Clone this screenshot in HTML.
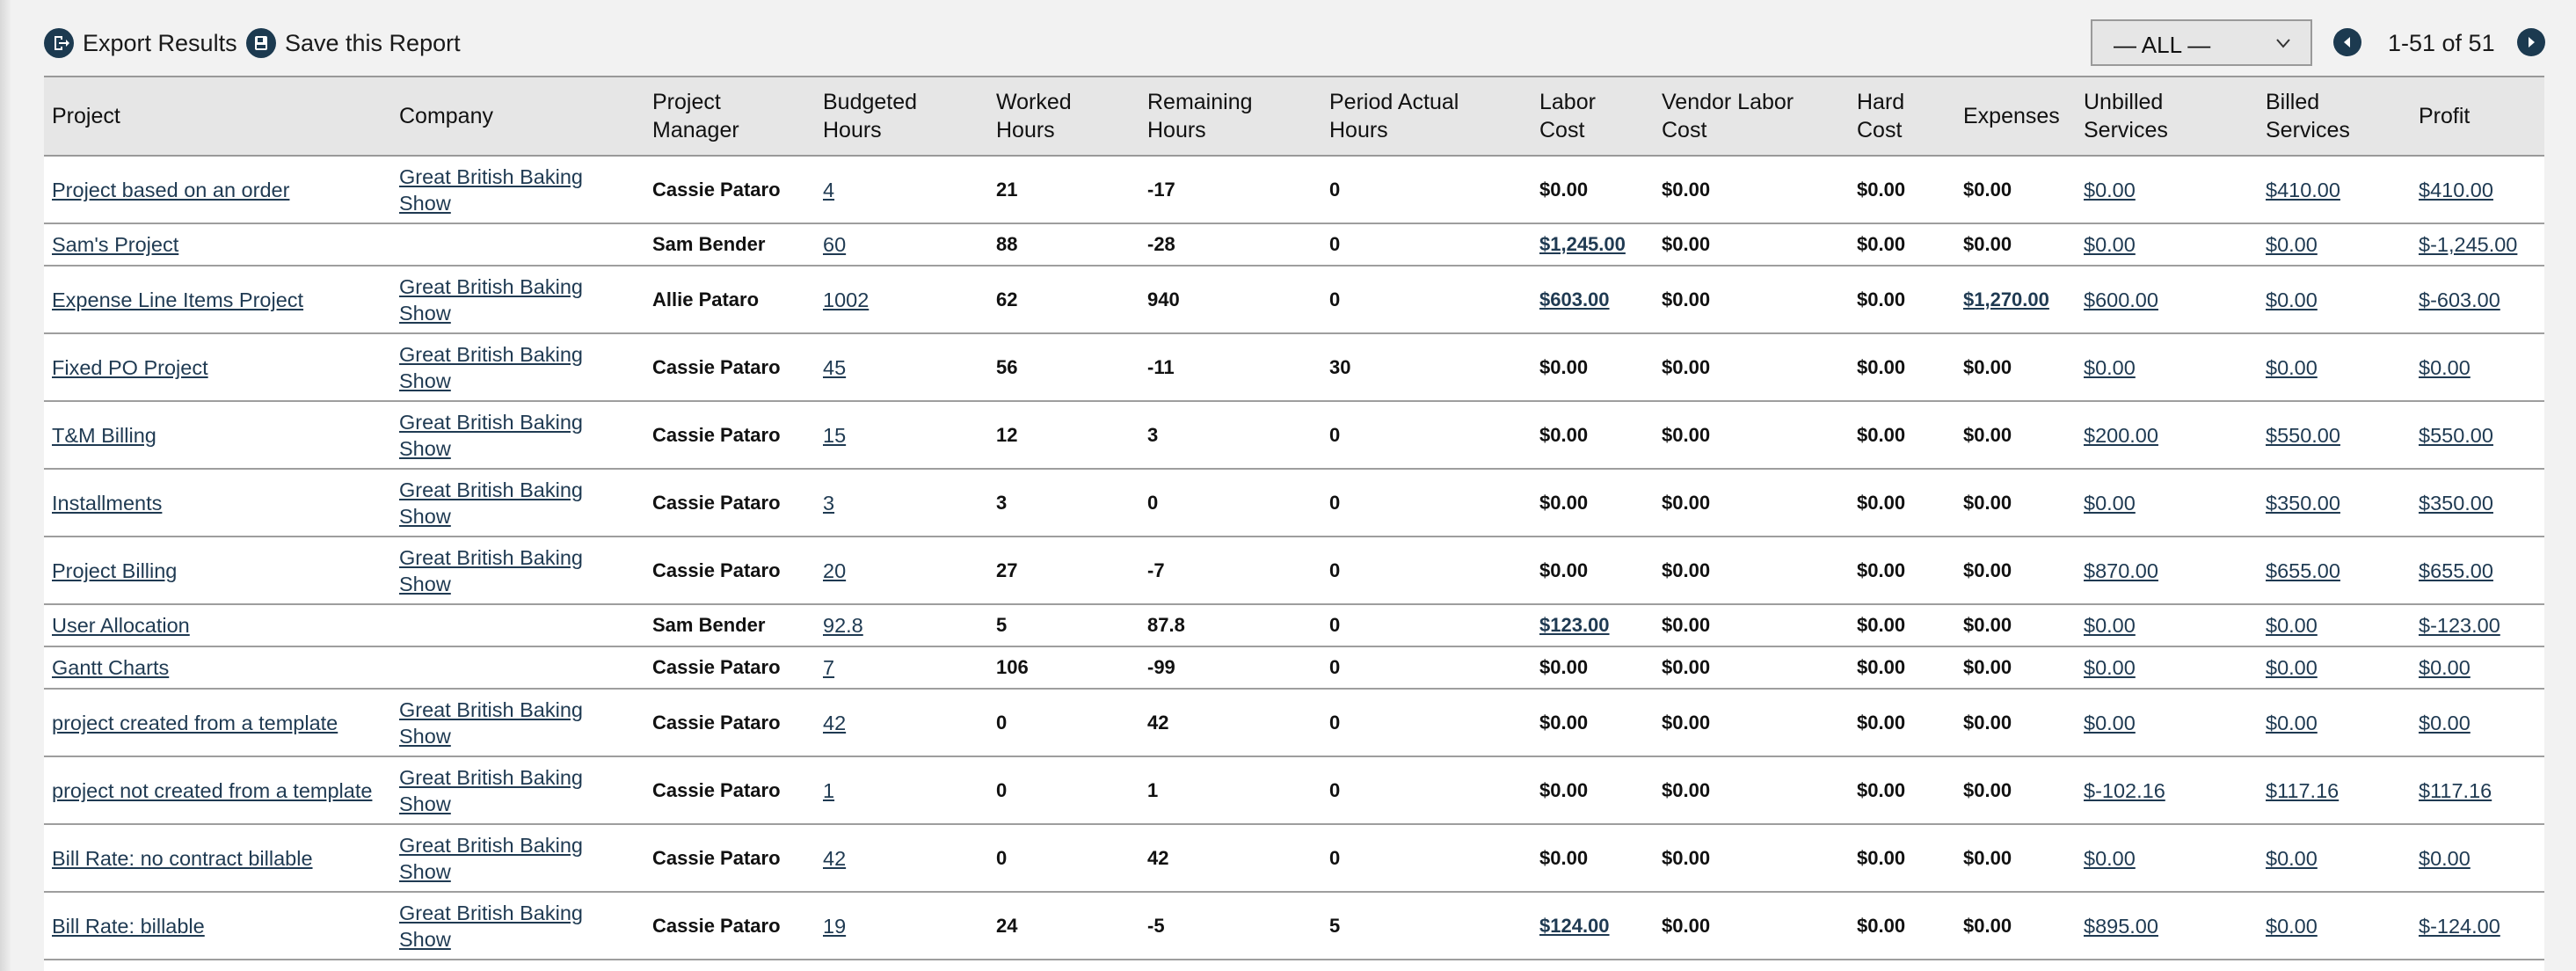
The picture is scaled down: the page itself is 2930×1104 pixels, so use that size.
<!DOCTYPE html>
<html><head><meta charset="utf-8"><style>
*{box-sizing:border-box;margin:0;padding:0}
html,body{width:2930px;height:1104px;overflow:hidden;background:#f2f2f2;font-family:"Liberation Sans",sans-serif;color:#111}
.edge{position:absolute;left:0;top:0;width:12px;height:1104px;background:linear-gradient(90deg,#d8d8d8,#efefef)}
.top{position:absolute;top:22px;height:54px;display:flex;align-items:center;font-size:27px;color:#1a1a1a}
.ic{width:34px;height:34px;border-radius:50%;background:#1c3a50;display:inline-block;position:relative;margin-right:10px}
.sel{position:absolute;left:2378px;top:22px;width:252px;height:53px;border:2px solid #9a9a9a;background:#e6e6e6;font-size:26px;padding:12px 0 0 24px}
.sel svg{position:absolute;right:22px;top:18px}
.nav{position:absolute;top:32px;width:32px;height:32px;border-radius:50%;background:#1c3a50}
table{position:absolute;left:50px;top:86px;width:2844px;border-collapse:collapse;table-layout:fixed;background:#fff}
th{background:#e6e6e6;font-weight:normal;text-align:left;font-size:25px;line-height:32px;padding:0 9px;height:90px;border-top:2px solid #999;border-bottom:2px solid #999}
td{font-size:22px;padding:0 9px;border-bottom:2px solid #9e9e9e;vertical-align:middle;font-weight:bold;line-height:30px;white-space:nowrap}
td.l{font-weight:normal;font-size:23.5px}
a{color:#1f3a52;text-decoration:underline}
tr.d td{height:77px}tr.s td{height:48px}
.bot{position:absolute;left:50px;top:1090px;width:2844px;height:14px;background:#fff}
</style></head><body>
<div class="edge"></div>
<div class="bot"></div>
<div class="top" style="left:50px"><span class="ic"><svg width="34" height="34" viewBox="0 0 34 34"><path d="M12 9h9v4h-2v-2h-5v12h5v-2h2v4h-9z M17 16h8v-3l4 4-4 4v-3h-8z" fill="#fff"/></svg></span>Export Results</div>
<div class="top" style="left:280px"><span class="ic"><svg width="34" height="34" viewBox="0 0 34 34"><rect x="10" y="9" width="14" height="16" rx="2" fill="#fff"/><rect x="13" y="11" width="6" height="5" fill="#1c3a50"/><rect x="12" y="19" width="10" height="4" fill="#1c3a50"/></svg></span>Save this Report</div>
<div class="sel">— ALL —<svg width="18" height="14"><path d="M2 3l7 8 7-8" stroke="#333" stroke-width="2" fill="none"/></svg></div>
<div class="nav" style="left:2654px"><svg width="32" height="32"><path d="M19 10v12l-7-6z" fill="#fff"/></svg></div>
<div class="top" style="left:2716px">1-51 of 51</div>
<div class="nav" style="left:2863px"><svg width="32" height="32"><path d="M13 10v12l7-6z" fill="#fff"/></svg></div>
<table>
<colgroup><col style="width:395px"><col style="width:288px"><col style="width:194px"><col style="width:197px"><col style="width:172px"><col style="width:207px"><col style="width:239px"><col style="width:139px"><col style="width:222px"><col style="width:121px"><col style="width:137px"><col style="width:207px"><col style="width:174px"><col style="width:152px"></colgroup>
<tr><th>Project</th><th>Company</th><th>Project<br>Manager</th><th>Budgeted<br>Hours</th><th>Worked<br>Hours</th><th>Remaining<br>Hours</th><th>Period Actual<br>Hours</th><th>Labor<br>Cost</th><th>Vendor Labor<br>Cost</th><th>Hard<br>Cost</th><th>Expenses</th><th>Unbilled<br>Services</th><th>Billed<br>Services</th><th>Profit</th></tr>
<tr class="d"><td class="l"><a>Project based on an order</a></td><td class="l"><a>Great British Baking<br>Show</a></td><td>Cassie Pataro</td><td class="l"><a>4</a></td><td>21</td><td>-17</td><td>0</td><td>$0.00</td><td>$0.00</td><td>$0.00</td><td>$0.00</td><td class="l"><a>$0.00</a></td><td class="l"><a>$410.00</a></td><td class="l"><a>$410.00</a></td></tr>
<tr class="s"><td class="l"><a>Sam's Project</a></td><td></td><td>Sam Bender</td><td class="l"><a>60</a></td><td>88</td><td>-28</td><td>0</td><td><a>$1,245.00</a></td><td>$0.00</td><td>$0.00</td><td>$0.00</td><td class="l"><a>$0.00</a></td><td class="l"><a>$0.00</a></td><td class="l"><a>$-1,245.00</a></td></tr>
<tr class="d"><td class="l"><a>Expense Line Items Project</a></td><td class="l"><a>Great British Baking<br>Show</a></td><td>Allie Pataro</td><td class="l"><a>1002</a></td><td>62</td><td>940</td><td>0</td><td><a>$603.00</a></td><td>$0.00</td><td>$0.00</td><td><a>$1,270.00</a></td><td class="l"><a>$600.00</a></td><td class="l"><a>$0.00</a></td><td class="l"><a>$-603.00</a></td></tr>
<tr class="d"><td class="l"><a>Fixed PO Project</a></td><td class="l"><a>Great British Baking<br>Show</a></td><td>Cassie Pataro</td><td class="l"><a>45</a></td><td>56</td><td>-11</td><td>30</td><td>$0.00</td><td>$0.00</td><td>$0.00</td><td>$0.00</td><td class="l"><a>$0.00</a></td><td class="l"><a>$0.00</a></td><td class="l"><a>$0.00</a></td></tr>
<tr class="d"><td class="l"><a>T&amp;M Billing</a></td><td class="l"><a>Great British Baking<br>Show</a></td><td>Cassie Pataro</td><td class="l"><a>15</a></td><td>12</td><td>3</td><td>0</td><td>$0.00</td><td>$0.00</td><td>$0.00</td><td>$0.00</td><td class="l"><a>$200.00</a></td><td class="l"><a>$550.00</a></td><td class="l"><a>$550.00</a></td></tr>
<tr class="d"><td class="l"><a>Installments</a></td><td class="l"><a>Great British Baking<br>Show</a></td><td>Cassie Pataro</td><td class="l"><a>3</a></td><td>3</td><td>0</td><td>0</td><td>$0.00</td><td>$0.00</td><td>$0.00</td><td>$0.00</td><td class="l"><a>$0.00</a></td><td class="l"><a>$350.00</a></td><td class="l"><a>$350.00</a></td></tr>
<tr class="d"><td class="l"><a>Project Billing</a></td><td class="l"><a>Great British Baking<br>Show</a></td><td>Cassie Pataro</td><td class="l"><a>20</a></td><td>27</td><td>-7</td><td>0</td><td>$0.00</td><td>$0.00</td><td>$0.00</td><td>$0.00</td><td class="l"><a>$870.00</a></td><td class="l"><a>$655.00</a></td><td class="l"><a>$655.00</a></td></tr>
<tr class="s"><td class="l"><a>User Allocation</a></td><td></td><td>Sam Bender</td><td class="l"><a>92.8</a></td><td>5</td><td>87.8</td><td>0</td><td><a>$123.00</a></td><td>$0.00</td><td>$0.00</td><td>$0.00</td><td class="l"><a>$0.00</a></td><td class="l"><a>$0.00</a></td><td class="l"><a>$-123.00</a></td></tr>
<tr class="s"><td class="l"><a>Gantt Charts</a></td><td></td><td>Cassie Pataro</td><td class="l"><a>7</a></td><td>106</td><td>-99</td><td>0</td><td>$0.00</td><td>$0.00</td><td>$0.00</td><td>$0.00</td><td class="l"><a>$0.00</a></td><td class="l"><a>$0.00</a></td><td class="l"><a>$0.00</a></td></tr>
<tr class="d"><td class="l"><a>project created from a template</a></td><td class="l"><a>Great British Baking<br>Show</a></td><td>Cassie Pataro</td><td class="l"><a>42</a></td><td>0</td><td>42</td><td>0</td><td>$0.00</td><td>$0.00</td><td>$0.00</td><td>$0.00</td><td class="l"><a>$0.00</a></td><td class="l"><a>$0.00</a></td><td class="l"><a>$0.00</a></td></tr>
<tr class="d"><td class="l"><a>project not created from a template</a></td><td class="l"><a>Great British Baking<br>Show</a></td><td>Cassie Pataro</td><td class="l"><a>1</a></td><td>0</td><td>1</td><td>0</td><td>$0.00</td><td>$0.00</td><td>$0.00</td><td>$0.00</td><td class="l"><a>$-102.16</a></td><td class="l"><a>$117.16</a></td><td class="l"><a>$117.16</a></td></tr>
<tr class="d"><td class="l"><a>Bill Rate: no contract billable</a></td><td class="l"><a>Great British Baking<br>Show</a></td><td>Cassie Pataro</td><td class="l"><a>42</a></td><td>0</td><td>42</td><td>0</td><td>$0.00</td><td>$0.00</td><td>$0.00</td><td>$0.00</td><td class="l"><a>$0.00</a></td><td class="l"><a>$0.00</a></td><td class="l"><a>$0.00</a></td></tr>
<tr class="d"><td class="l"><a>Bill Rate: billable</a></td><td class="l"><a>Great British Baking<br>Show</a></td><td>Cassie Pataro</td><td class="l"><a>19</a></td><td>24</td><td>-5</td><td>5</td><td><a>$124.00</a></td><td>$0.00</td><td>$0.00</td><td>$0.00</td><td class="l"><a>$895.00</a></td><td class="l"><a>$0.00</a></td><td class="l"><a>$-124.00</a></td></tr>
</table>
</body></html>
